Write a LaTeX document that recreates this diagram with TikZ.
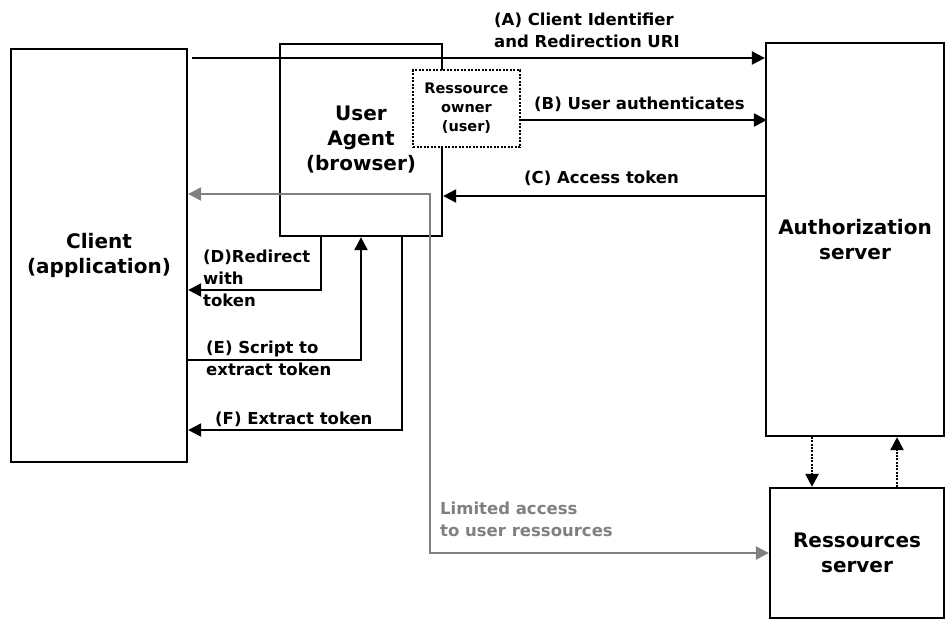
\documentclass[tikz,border=0pt]{standalone}
\usepackage{fontspec}
\setmainfont{DejaVu Sans}
\usetikzlibrary{arrows.meta,calc}
\begin{document}
\begin{tikzpicture}[x=1pt,y=-1pt,
  box/.style={draw, line width=2.3pt, inner sep=0pt, align=center,
    font=\bfseries\fontsize{20}{25}\selectfont},
  ownerbox/.style={draw, fill=white, line width=2.3pt, dash pattern=on 2pt off 1.5pt,
    inner sep=0pt, align=center, font=\bfseries\fontsize{14.5}{19}\selectfont},
  lab/.style={font=\bfseries\fontsize{16.5}{22}\selectfont, align=left,
    anchor=north west, inner sep=0pt},
  glab/.style={lab, text={rgb,255:red,128;green,128;blue,128}},
  tip/.tip={Triangle[length=13pt,width=13pt]},
  arr/.style={line width=2.3pt, -tip},
  garr/.style={line width=2.3pt, draw={rgb,255:red,128;green,128;blue,128}, tip-tip},
  darr/.style={line width=2.3pt, dash pattern=on 2pt off 1.3pt, -tip}
]
\useasboundingbox (0,0) rectangle (949,630);

\node[box, minimum width=176pt, minimum height=413pt] (client) at (99,255.5) {Client\\(application)};
\node[box, minimum width=162pt, minimum height=192pt] (ua) at (361,140) {User\\Agent\\(browser)};
\node[box, minimum width=178pt, minimum height=393pt] (auth) at (855,239.5) {Authorization\\server};
\node[box, minimum width=174pt, minimum height=130pt] (rs) at (857,553) {Ressources\\server};

% (A)
\draw[arr] ($(client.east |- 0,58)+(4,0)$) -- (auth.west |- 0,58);
\node[lab] (la) at (494,12.5) {(A) Client Identifier\\and Redirection URI};

% limited access (gray)
\draw[garr] (client.east |- 0,194) -| (rs.west -| 430,0) -- (rs.west);
\node[glab] (lg) at (440,501.5) {Limited access\\to user ressources};

% (C)
\draw[arr] (auth.west |- 0,196) -- (ua.east |- 0,196);
\node[lab] (lc) at (524,170.5) {(C) Access token};

% (D)
\draw[arr] (ua.south -| 321,0) |- (client.east |- 0,290);
\node[lab] (ld) at (203,249.5) {(D)Redirect\\with\\token};

% (E)
\draw[arr] (client.east |- 0,360) -| (ua.south);
\node[lab] (le) at (206,340.5) {(E) Script to\\extract token};

% (F)
\draw[arr] (ua.south -| 402,0) |- (client.east |- 0,430);
\node[lab] (lf) at (215,411.5) {(F) Extract token};

% dotted arrows between servers
\draw[darr] (auth.south -| 812,0) -- (rs.north -| 812,0);
\draw[darr] (rs.north -| 897,0) -- (auth.south -| 897,0);

% resource owner
\node[ownerbox, minimum width=107pt, minimum height=77pt] (ro) at (466.5,108.5) {Ressource\\owner\\(user)};

% (B)
\draw[arr] (ro.east |- 0,120) -- ($(auth.west |- 0,120)+(2,0)$);
\node[lab] (lb) at (534,96.5) {(B) User authenticates};
\end{tikzpicture}
\end{document}
